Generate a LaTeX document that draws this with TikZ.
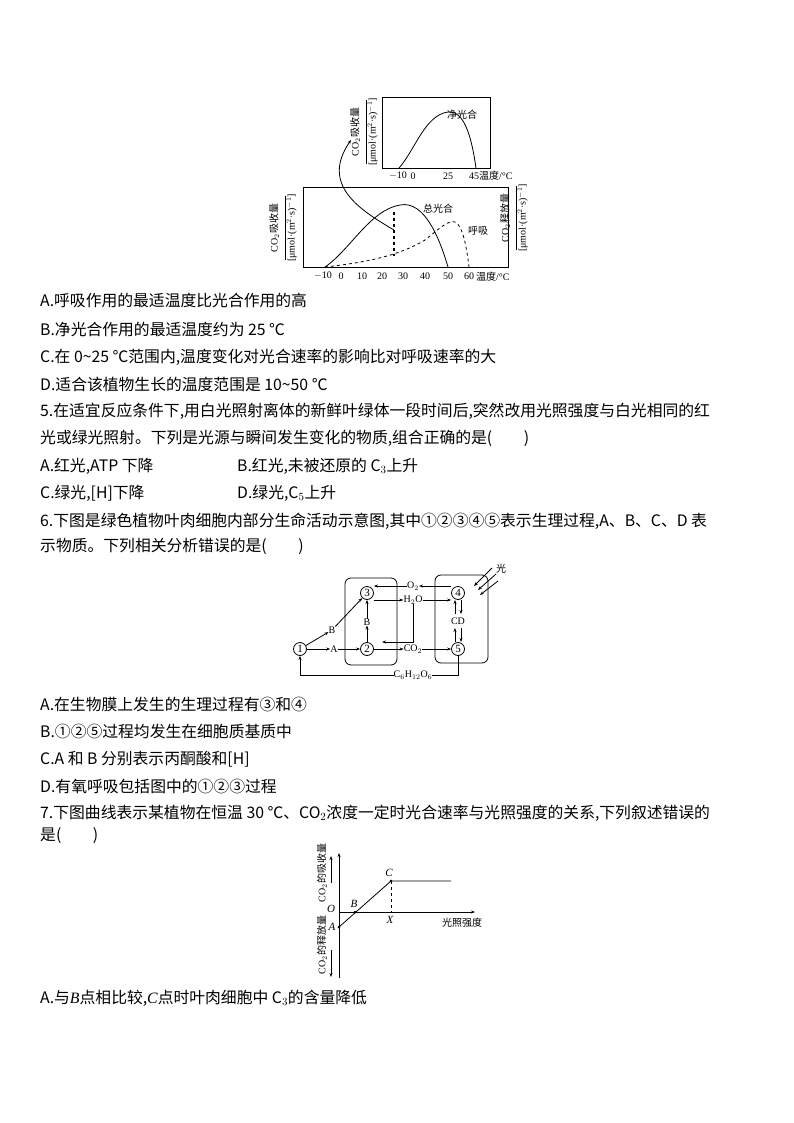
\documentclass[tikz,border=0pt]{standalone}
\usepackage{fontspec}
\setmainfont{Noto Sans CJK SC}
\newfontfamily\ser{Liberation Serif}
\usetikzlibrary{arrows.meta}
\begin{document}
\begin{tikzpicture}[x=1pt,y=-1pt,
  txt/.style={anchor=west,inner sep=0pt,font=\fontsize{15.8}{17}\selectfont},
  sm/.style={inner sep=0pt,font=\fontsize{10}{11}\selectfont},
  num/.style={circle,draw,thick,inner sep=0pt,minimum size=13pt,font=\fontsize{11}{11}\selectfont\ser},
  ar/.style={-{Stealth[length=4pt,width=3pt]},thick},
  cv/.style={thick}]
\useasboundingbox (0,0) rectangle (794,1123);
% ---------- top graph (net) ----------
\draw[thick] (382,97) rectangle (490,168);
\draw[cv] (399,168) .. controls (415,150) and (425,115) .. (448,112) .. controls (465,110) and (472,140) .. (476,168);
\node[sm] (n1) at (462,115) {净光合};
\node[sm] (t1) at (398,176) {\ser $-$10};
\node[sm] (t2) at (413,176) {\ser 0};
\node[sm] (t3) at (448,176) {\ser 25};
\node[sm,anchor=west] (t4) at (469,176) {{\ser 45}温度{\ser /°C}};
\node[sm,rotate=90,align=center] (yl1) at (364,132) {{\ser CO$_2$}吸收量\\[-3pt]\rule{64pt}{0.5pt}\\[-2pt]{\ser [μmol·(m$^2$·s)$^{-1}$]}};
% ---------- bottom graph ----------
\draw[thick] (303,187) rectangle (508,267);
\draw[cv] (325,267) .. controls (350,250) and (370,210) .. (400,205) .. controls (425,200) and (440,240) .. (448,267);
\draw[cv,dashed] (325,267) .. controls (370,262) and (400,255) .. (425,240) .. controls (440,228) and (448,220) .. (455,222) .. controls (463,225) and (467,250) .. (469,267);
\draw[very thick,dashed] (394,212) -- (394,256);
\coordinate (cs) at (394,230);
\coordinate (ce) at (351,140);
\draw[ar] (cs) .. controls (360,210) and (320,185) .. (ce);
\node[sm] (zg) at (438,209) {总光合};
\node[sm] (hx) at (478,231) {呼吸};
\foreach \v/\xx in {$-$10/323,0/341,10/362,20/382,30/403,40/425,50/448,60/469}
  \node[sm] at (\xx,276) {\ser\v};
\node[sm,anchor=west] (wd) at (476,277) {温度{\ser /°C}};
\node[sm,rotate=90,align=center] (yl2) at (283,228) {{\ser CO$_2$}吸收量\\[-3pt]\rule{64pt}{0.5pt}\\[-2pt]{\ser [μmol·(m$^2$·s)$^{-1}$]}};
\node[sm,rotate=90,align=center] (yl3) at (514,218) {{\ser CO$_2$}释放量\\[-3pt]\rule{64pt}{0.5pt}\\[-2pt]{\ser [μmol·(m$^2$·s)$^{-1}$]}};
% ---------- text ----------
\node[txt] (l1) at (40,300) {A.呼吸作用的最适温度比光合作用的高};
\node[txt] (l2) at (40,329) {B.净光合作用的最适温度约为 25 ℃};
\node[txt] (l3) at (40,357) {C.在 0\textasciitilde25 ℃范围内,温度变化对光合速率的影响比对呼吸速率的大};
\node[txt] (l4) at (40,384) {D.适合该植物生长的温度范围是 10\textasciitilde50 ℃};
\node[txt] (l5) at (40,411) {5.在适宜反应条件下,用白光照射离体的新鲜叶绿体一段时间后,突然改用光照强度与白光相同的红};
\node[txt] (l6) at (40,438) {光或绿光照射。下列是光源与瞬间发生变化的物质,组合正确的是(　　)};
\node[txt] (l7) at (40,466) {A.红光,ATP 下降};
\node[txt] (l7b) at (237,466) {B.红光,未被还原的 C$_3$上升};
\node[txt] (l8) at (40,493) {C.绿光,[H]下降};
\node[txt] (l8b) at (237,493) {D.绿光,C$_5$上升};
\node[txt] (l9) at (40,521) {6.下图是绿色植物叶肉细胞内部分生命活动示意图,其中①②③④⑤表示生理过程,A、B、C、D 表};
\node[txt] (l10) at (40,546) {示物质。下列相关分析错误的是(　　)};
\node[txt] (l11) at (40,704) {A.在生物膜上发生的生理过程有③和④};
\node[txt] (l12) at (40,731) {B.①②⑤过程均发生在细胞质基质中};
\node[txt] (l13) at (40,759) {C.A 和 B 分别表示丙酮酸和[H]};
\node[txt] (l14) at (40,786) {D.有氧呼吸包括图中的①②③过程};
\node[txt] (l15) at (40,813) {7.下图曲线表示某植物在恒温 30 ℃、CO$_2$浓度一定时光合速率与光照强度的关系,下列叙述错误的};
\node[txt] (l16) at (40,836) {是(　　)};
\node[txt] (l17) at (40,998) {A.与{\ser\itshape B}点相比较,{\ser\itshape C}点时叶肉细胞中 C$_3$的含量降低};
% ---------- cell diagram ----------
\draw[thick,rounded corners=6pt] (345,578) rectangle (397,665);
\draw[thick,rounded corners=6pt] (435,575) rectangle (488,663);
\node[num] (c1) at (300,649) {1};
\node[num] (c2) at (367,649) {2};
\node[num] (c3) at (367,593) {3};
\node[num] (c4) at (458,593) {4};
\node[num] (c5) at (458,649) {5};
\node[sm] (A) at (334,649) {\ser A};
\node[sm] (B1) at (332,630) {\ser B};
\node[sm] (B2) at (367,622) {\ser B};
\node[sm] (co2) at (413,649) {\ser CO$_2$};
\node[sm] (o2) at (413,586) {\ser O$_2$};
\node[sm] (h2o) at (413,600) {\ser H$_2$O};
\node[sm] (cd) at (458,621) {\ser CD};
\node[sm] (g) at (413,675) {\ser C$_6$H$_{12}$O$_6$};
\node[sm] (light) at (501,569) {光};
\draw[ar] (c1) -- (A);
\draw[ar] (A) -- (c2);
\draw[ar] (c1) -- (B1);
\draw[ar] (B1) -- (c3);
\draw[ar] (c2) -- (B2);
\draw[ar] (B2) -- (c3);
\draw[ar] (c2) -- (co2);
\draw[ar] (co2) -- (c5);
\draw[ar] (o2) -- (c3.east |- o2);
\draw[ar] (c4.west |- o2) -- (o2);
\draw[ar] (c3.east |- h2o) -- (h2o);
\draw[ar] (h2o) -- (c4.west |- h2o);
\draw[ar] (h2o.south) -- (413,642) -- (382,642);
\draw[ar] (455,614) -- (455,600);
\draw[ar] (461,600) -- (461,614);
\draw[ar] (455,642) -- (455,628);
\draw[ar] (461,628) -- (461,642);
\draw[thick] (c5.south) -- (458,675) -- (g.east);
\draw[ar] (g.west) -- (300,675) -- (c1.south);
\draw[ar] (492,568) -- (474,586);
\draw[ar] (496,574) -- (478,590);
\draw[ar] (498,581) -- (480,595);
% ---------- light graph ----------
\draw[ar] (339,978) -- (339,853);
\draw[ar] (339,912) -- (475,912);
\coordinate (pA) at (339,927);
\coordinate (pB) at (355,912);
\coordinate (pC) at (391,881);
\coordinate (pX) at (391,912);
\draw[thick] (pA) -- (pC) -- (451,881);
\draw[dashed] (pC) -- (pX);
\fill (pA) circle (1.5); \fill (pB) circle (1.5); \fill (pC) circle (1.5);
\node[sm,font=\fontsize{11}{11}\selectfont\ser\itshape] (lO) at (331,909) {O};
\node[sm,font=\fontsize{11}{11}\selectfont\ser\itshape] (lA) at (332,927) {A};
\node[sm,font=\fontsize{11}{11}\selectfont\ser\itshape] (lB) at (354,904) {B};
\node[sm,font=\fontsize{11}{11}\selectfont\ser\itshape] (lC) at (389,873) {C};
\node[sm,font=\fontsize{11}{11}\selectfont\ser\itshape] (lX) at (390,920) {X};
\node[sm] (gz) at (462,923) {光照强度};
\node[sm,rotate=90] (ys) at (322,873) {{\ser CO$_2$}的吸收量};
\node[sm,rotate=90] (yf) at (322,945) {{\ser CO$_2$}的释放量};
\draw[ar] (331,883) -- (331,856);
\draw[ar] (331,950) -- (331,977);
\end{tikzpicture}
\end{document}
